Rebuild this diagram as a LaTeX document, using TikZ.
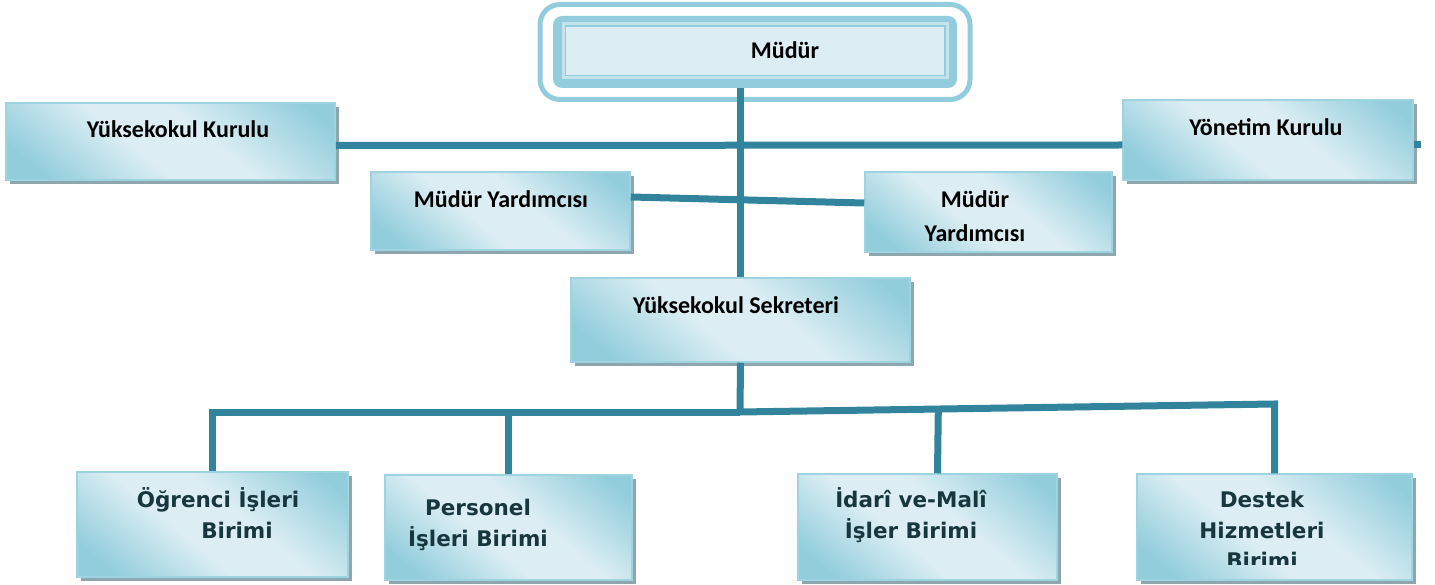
\documentclass[tikz,border=0pt]{standalone}
\usepackage{fontspec}
\setmainfont{Carlito}
\newfontfamily\unitfont{DejaVu Sans}
\usepackage{tikz}
\usetikzlibrary{positioning, shadows, calc}

\definecolor{linkc}{HTML}{31849B}
\definecolor{framec}{HTML}{93CDDD}
\definecolor{boxlight}{HTML}{DCEEF3}
\definecolor{boxdark}{HTML}{92CDDC}
\definecolor{boxedge}{HTML}{9ED3E1}
\definecolor{shadowc}{HTML}{8EA6AE}
\definecolor{unitc}{HTML}{17363E}

\pgfdeclareverticalshading{boxshade}{100bp}{color(0bp)=(boxdark); color(22bp)=(boxdark); color(43bp)=(boxlight); color(57bp)=(boxlight); color(80bp)=(boxdark); color(100bp)=(boxdark)}

\begin{document}
\begin{tikzpicture}[
  x=1pt, y=-1pt,
  box/.style={draw=boxedge, line width=1.5pt, shading=boxshade, shading angle=-40,
    drop shadow={shadow xshift=4pt, shadow yshift=-4pt, fill=shadowc, opacity=1}},
  chiefring/.style={draw=framec, line width=5pt, rounded corners=20pt, minimum width=430pt, minimum height=95pt},
  chiefband/.style={fill=framec, rounded corners=9pt, minimum width=404pt, minimum height=72pt},
  chiefbox/.style={fill=boxlight, draw=framec, line width=1.5pt, double=white!45!framec, double distance=3pt, minimum width=384pt, minimum height=54pt},
  txt/.style={font=\bfseries\fontsize{24}{34}\selectfont, align=center, inner sep=0pt},
  unittxt/.style={font=\unitfont\bfseries\fontsize{21.5}{30.5}\selectfont, text=unitc, align=center, inner sep=0pt},
  link/.style={draw=linkc, line width=7pt}
]
\useasboundingbox (0,0) rectangle (1435,585);

% top
\node[chiefring] (chiefring) at (755,52) {};
\node[chiefband] (chiefband) at (755,52) {};
\node[chiefbox] (chief) at (755,51) {};
\node[txt] (chieftxt) at (785,50) {Müdür};

% boards
\node[box, minimum width=329pt, minimum height=77pt] (kurulu) at (170.5,141.5) {};
\node[txt] (kurulutxt) at (178,129) {Yüksekokul Kurulu};
\node[box, minimum width=290pt, minimum height=80pt] (yonetim) at (1268,140) {};
\node[txt] (yonetimtxt) at (1266,127) {Yönetim Kurulu};

% deputies and secretary
\node[box, minimum width=259pt, minimum height=78pt] (myl) at (500.5,211) {};
\node[txt] (myltxt) at (501,199) {Müdür Yardımcısı};
\node[box, minimum width=247pt, minimum height=80pt] (myr) at (988.5,212) {};
\node[txt] (myrtxt) at (975,216) {Müdür\\Yardımcısı};
\node[box, minimum width=339pt, minimum height=84pt] (sekreter) at (740.5,320) {};
\node[txt] (sekretertxt) at (736,305) {Yüksekokul Sekreteri};

% units
\node[box, minimum width=271pt, minimum height=105pt] (ogrenci) at (212.5,524.5) {};
\node[unittxt] (ogrencitxt) at (218,513) {Öğrenci İşleri\\\hspace*{38pt}Birimi};
\node[box, minimum width=247pt, minimum height=105pt] (personel) at (508.5,527.5) {};
\node[unittxt] (personeltxt) at (478,525) {Personel\\İşleri Birimi};
\node[box, minimum width=259pt, minimum height=106pt] (idari) at (927.5,527) {};
\node[unittxt] (idaritxt) at (911,515) {İdarî ve-Malî\\İşler Birimi};
\node[box, minimum width=275pt, minimum height=106pt] (destek) at (1274.5,527) {};
\begin{scope}
  \clip (1137,474) rectangle (1412,564);
  \node[unittxt] (destektxt) at (1262,530) {Destek\\Hizmetleri\\Birimi};
\end{scope}

\coordinate (stub) at (1421,145);
\coordinate (bus) at (740,412);
\coordinate (busend) at (1276,404);

\draw[link] ([yshift=-4pt]kurulu.east) -- ([yshift=-5pt]yonetim.west);
\draw[link] ([yshift=-5pt]yonetim.east) -- (stub);
\draw[link] ([yshift=14pt]myl.east) -- ([yshift=9pt]myr.west);
\draw[link] (sekreter.north |- chiefband.south) -- (sekreter.north);
\draw[link] (sekreter.south) -- (bus);
\draw[link] (ogrenci.north) |- (bus);
\draw[link] (bus) -- (destek.north |- busend) -- (destek.north);
\draw[link] (personel.north) -- (personel.north |- bus);
\draw[link] ([xshift=10pt]idari.north) -- ($(bus)!0.37!(busend)$);
\end{tikzpicture}
\end{document}
